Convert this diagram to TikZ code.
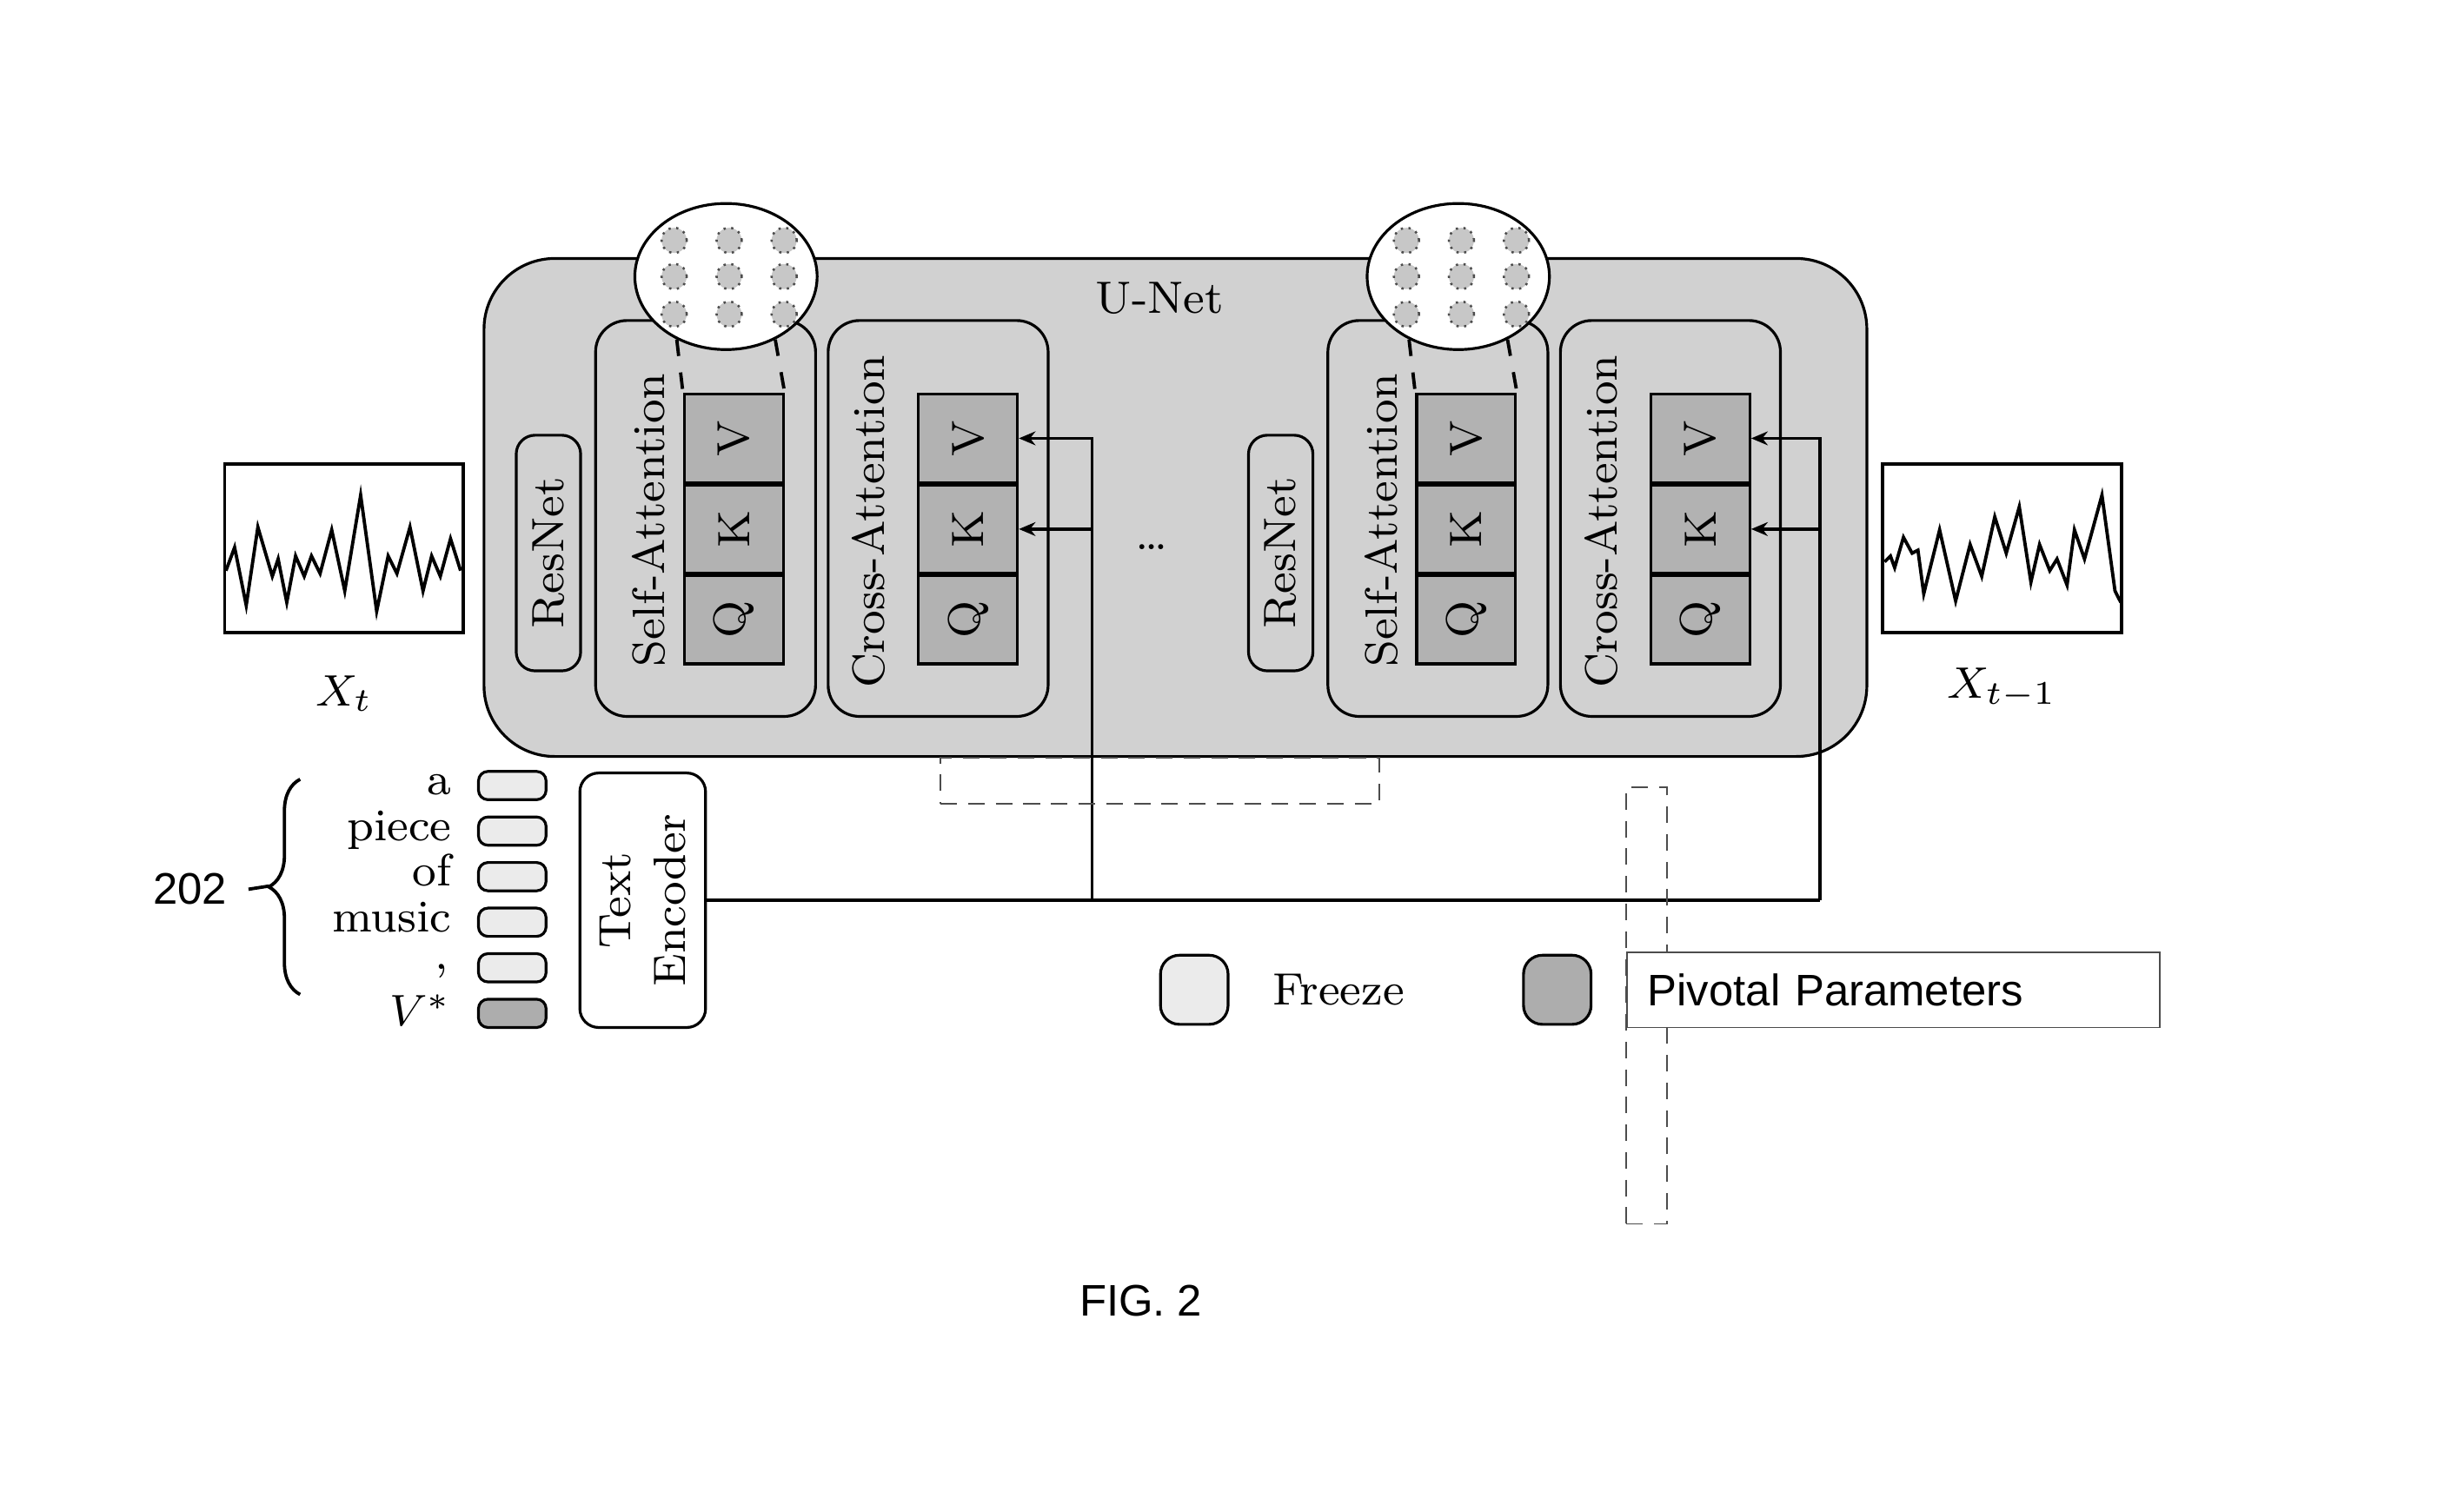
\documentclass[tikz,border=0pt]{standalone}
\usepackage{fontspec}
\usepackage{tikz}
\usetikzlibrary{positioning,shapes.geometric,arrows.meta,decorations.pathreplacing}
\newfontfamily\labelfont{Liberation Sans}

\tikzset{
  block/.style={draw, line width=0.5pt, rounded corners=2mm, fill=black!18, inner sep=0pt},
  qkv/.style={draw, line width=0.5pt, fill=black!30, minimum width=6.3mm, minimum height=5.6mm, inner sep=0pt},
  token/.style={draw, line width=0.5pt, rounded corners=0.6mm, fill=black!8, minimum width=4.3mm, minimum height=1.8mm, inner sep=0pt},
  lens/.style={draw, line width=0.5pt, ellipse, fill=white, minimum width=11.6mm, minimum height=9.3mm, inner sep=0pt},
  lensdot/.style={circle, draw=black!70, densely dotted, fill=black!22, minimum size=1.6mm, inner sep=0pt},
  ghost/.style={draw=black!70, line width=0.3pt, densely dashed, inner sep=0pt},
  wave/.style={draw, line width=0.6pt, minimum width=15.2mm, minimum height=10.7mm, inner sep=0pt},
  link/.style={line width=0.6pt},
  word/.style={anchor=base east, inner sep=0pt},
}

\begin{document}
\begin{tikzpicture}[x=0.1mm, y=-0.1mm, font=\fontsize{8.2}{10}\selectfont]
    \useasboundingbox (0,0) rectangle (1568,945);

    % draw U-Net frame
    \node[block, rounded corners=4.5mm, minimum width=88mm, minimum height=31.7mm] (unet) at (748,323) {};
    \node (unetlbl) at (738,190) {U-Net};

    % draw the two blocks: ResNet, Self-Attention, Cross-Attention
    \foreach \n/\dx in {L/0, R/466} {
      \node[block, rounded corners=1.2mm, minimum width=4.1mm, minimum height=15mm] (res\n) at ({349+\dx},352) {};
      \node[rotate=90] (reslbl\n) at (res\n) {ResNet};

      \node[block, minimum width=14mm, minimum height=25.2mm] (sa\n) at ({449+\dx},330) {};
      \node[rotate=90] (salbl\n) at ({413+\dx},331) {Self-Attention};
      \node[qkv] (sv\n) at ({467+\dx},279) {};
      \node[qkv, below=0pt of sv\n] (sk\n) {};
      \node[qkv, below=0pt of sk\n] (sq\n) {};

      \node[block, minimum width=14mm, minimum height=25.2mm] (ca\n) at ({597+\dx},330) {};
      \node[rotate=90] (calbl\n) at ({553+\dx},332) {Cross-Attention};
      \node[qkv] (cv\n) at ({616+\dx},279) {};
      \node[qkv, below=0pt of cv\n] (ck\n) {};
      \node[qkv, below=0pt of ck\n] (cq\n) {};

      % Q K V letters
      \foreach \b/\l in {sv/V, sk/K, sq/Q, cv/V, ck/K, cq/Q}
        \node[rotate=90] at (\b\n) {\l};

      % magnified parameters
      \node[lens] (lens\n) at ({462+\dx},176) {};
      \foreach \i/\ox in {1/-33, 2/2, 3/37}
        \foreach \j/\oy in {1/-23, 2/0, 3/24}
          \node[lensdot] (dot\n\i\j) at ({462+\dx+\ox},{176+\oy}) {};
      \draw[link, dashed] (lens\n.-128) -- (sv\n.north west);
      \draw[link, dashed] (lens\n.-52) -- (sv\n.north east);
    }

    \node (dots) at (733,348) {\dots};

    % draw waveforms
    \node[wave] (wavL) at (219,349) {};
    \node[below=1.4mm of wavL] (xt) {$X_t$};
    \draw[line width=0.6pt] (143.8,363.2) -- (149.3,348.4) -- (156.7,385.3) -- (164.1,335.5) -- (173.3,366.8) -- (177.0,355.8)
      -- (182.5,383.4) -- (188.1,353.9) -- (193.6,366.8) -- (198.2,353.9) -- (203.7,365.0) -- (211.1,337.3)
      -- (219.4,376.1) -- (229.5,315.2) -- (239.7,389.0) -- (247.0,353.9) -- (252.6,365.0) -- (260.9,335.5)
      -- (269.2,376.1) -- (274.7,353.9) -- (280.2,366.8) -- (286.7,342.9) -- (293.1,363.2);

    \node[wave] (wavR) at (1274,349) {};
    \node[below=0.9mm of wavR] (xt1) {$X_{t-1}$};
    \draw[line width=0.6pt] (1199.3,357.6) -- (1203.0,353.9) -- (1205.7,361.3) -- (1211.3,342.0) -- (1216.8,352.1)
      -- (1220.5,350.2) -- (1224.2,377.9) -- (1234.3,337.3) -- (1244.5,382.5) -- (1253.7,346.6) -- (1261.1,366.8)
      -- (1269.4,329.0) -- (1276.7,352.1) -- (1285.0,322.6) -- (1292.4,370.5) -- (1297.9,346.6) -- (1304.4,363.2)
      -- (1309.0,355.8) -- (1315.4,372.4) -- (1320.1,337.3) -- (1326.5,355.8) -- (1337.6,315.2) -- (1345.9,376.1)
      -- (1349.6,383.4);

    % draw prompt tokens
    \foreach \w [count=\i] in {a, piece, of, music} {
      \node[word] (w\i) at (288,{477+29*\i}) {\w};
      \node[token] (t\i) at (326,{471+29*\i}) {};
    }
    \node[word] (w5) at (286,617) {,};
    \node[token] (t5) at (326,616) {};
    \node[word] (w6) at (288,653) {$V^{*}$};
    \node[token, fill=black!32] (t6) at (326,645) {};

    % draw brace and label
    \draw[line width=0.6pt, decorate, decoration={brace, amplitude=2mm}] (191,633) -- (191,496);
    \coordinate (bracetip) at (171,564);
    \node[font=\labelfont\fontsize{8}{10}\selectfont, inner sep=0pt] (num) at (121,566) {202};
    \draw[line width=0.6pt] (num.east) ++(1.3mm,0) -- (bracetip);

    % draw text encoder
    \node[draw, line width=0.5pt, rounded corners=1.2mm, fill=white, minimum width=8mm, minimum height=16.2mm, inner sep=0pt] (te) at (409,573) {};
    \node[rotate=90, align=center] (telbl) at (te) {Text\\Encoder};

    % draw conditioning lines
    \coordinate (busL) at (695,573);
    \coordinate (busR) at (1158,573);
    \draw[link] (te.east) -- (busR);
    \foreach \n/\b in {L/busL, R/busR} {
      \draw[link, -{Stealth[length=3pt, width=2.5pt]}] (\b) |- (cv\n.east);
      \draw[link, -{Stealth[length=3pt, width=2.5pt]}] (\b |- ck\n.east) -- (ck\n.east);
    }

    % draw empty frames
    \node[ghost, minimum width=27.9mm, minimum height=2.9mm] (frameA) at (738,497) {};
    \node[ghost, minimum width=2.6mm, minimum height=27.8mm] (frameB) at (1048,640) {};

    % draw legend
    \node[block, rounded corners=1.2mm, fill=black!8, minimum width=4.3mm, minimum height=4.4mm] (frz) at (760,630) {};
    \node[right=1.5mm of frz] (frzlbl) {Freeze};
    \node[block, rounded corners=1.2mm, fill=black!32, minimum width=4.3mm, minimum height=4.4mm] (piv) at (991,630) {};
    \node[draw=black!70, line width=0.3pt, anchor=west, fill=white, minimum height=4.8mm, text width=31.3mm,
          inner xsep=1.3mm, align=left, font=\labelfont\fontsize{8}{10}\selectfont] (pivlbl) at (1035,630) {Pivotal Parameters};

    % caption
    \node[font=\labelfont\fontsize{8}{10}\selectfont] (fig) at (726,828) {FIG. 2};
\end{tikzpicture}
\end{document}
